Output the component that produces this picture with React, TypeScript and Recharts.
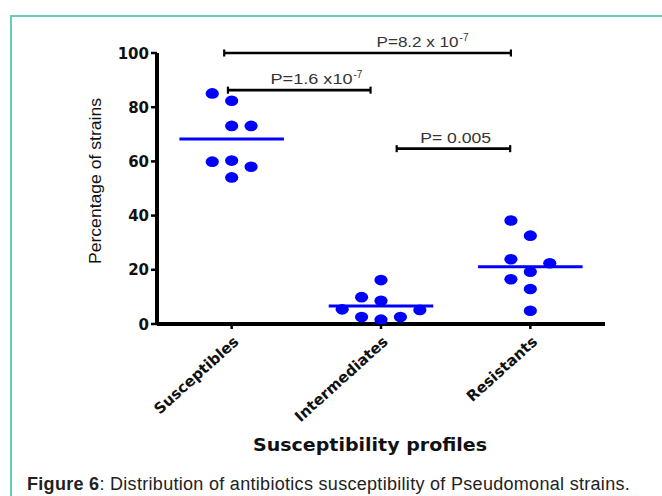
import React from 'react';
import { ScatterChart, Scatter, XAxis, YAxis, ReferenceLine, ReferenceDot } from 'recharts';

// ---- data ----
const categories = ['Susceptibles', 'Intermediates', 'Resistants'];
const susceptibleValues = [85.1, 82.4, 73.1, 73.1, 59.9, 60.3, 58.0, 54.1];
const susceptibleSlots = [-1, 0, 0, 1, -1, 0, 1, 0];
const intermediateValues = [5.4, 9.9, 16.2, 8.6, 2.6, 1.6, 2.6, 5.2];
const intermediateSlots = [-2, -1, 0, 0, -1, 0, 1, 2];
const resistantValues = [38.2, 32.6, 23.9, 22.4, 19.3, 16.5, 12.9, 4.9];
const resistantSlots = [-1, 0, -1, 1, 0, -1, 0, 0];
const medians = [68.3, 6.6, 21.1];
const yTicks = [0, 20, 40, 60, 80, 100];

// significance brackets
const pText = ['P=8.2 x 10', 'P=1.6 x10', 'P= 0.005'];
const pExponent = ['-7', '-7', ''];
const bracketStart = [0.95, 0.975, 2.105];
const bracketEnd = [2.87, 1.93, 2.865];
const bracketLevel = [100, 86.3, 64.7];
const pLabelX = [2.275, 1.565, 2.5];

const SLOT = 0.13;
const MEDIAN_HALF = 0.35;
const CAP = 1.3;

const toPoints = (values: number[], slots: number[], cat: number) =>
  values.map((v, i) => ({ x: cat + 1 + slots[i] * SLOT, y: v }));

const seriesData = [
  toPoints(susceptibleValues, susceptibleSlots, 0),
  toPoints(intermediateValues, intermediateSlots, 1),
  toPoints(resistantValues, resistantSlots, 2),
];

const Dot = (props: any) => (
  <ellipse cx={props.cx} cy={props.cy} rx={6.6} ry={5.3} fill="#0000ff" />
);

const XTick = (props: any) => {
  const { x, y, payload } = props;
  const ax = x + 8;
  const ay = y + 12;
  return (
    <text
      x={ax}
      y={ay}
      transform={`rotate(-42, ${ax}, ${ay})`}
      textAnchor="end"
      fontFamily="'DejaVu Sans', sans-serif"
      fontWeight="bold"
      fontSize={15}
      fill="#111"
    >
      {categories[payload.value - 1]}
    </text>
  );
};

const YTick = (props: any) => {
  const { x, y, payload } = props;
  return (
    <text
      x={x}
      y={y}
      dy={5.5}
      textAnchor="end"
      fontFamily="'DejaVu Sans', sans-serif"
      fontWeight="bold"
      fontSize={15}
      fill="#111"
    >
      {payload.value}
    </text>
  );
};

const PLabel = (i: number) => (props: any) => {
  const { cx, cy } = props;
  const mainLen = [82, 82, 71][i];
  const left = cx - (mainLen + (pExponent[i] ? 9 : 0)) / 2;
  return (
    <g>
      <text
        x={left}
        y={cy - 6}
        fontFamily="'Liberation Sans', Arial, sans-serif"
        fontSize={15}
        fill="#333"
        textLength={mainLen}
        lengthAdjust="spacingAndGlyphs"
      >
        {pText[i]}
      </text>
      {pExponent[i] ? (
        <text
          x={left + mainLen + 1}
          y={cy - 12}
          fontFamily="'Liberation Sans', Arial, sans-serif"
          fontSize={10}
          fill="#333"
        >
          {pExponent[i]}
        </text>
      ) : null}
    </g>
  );
};

const YTitle = () => (
  <text
    x={95}
    y={181}
    transform="rotate(-90, 95, 181)"
    textAnchor="middle"
    dominantBaseline="central"
    fontFamily="'Liberation Sans', Arial, sans-serif"
    fontSize={17}
    fill="#111"
    textLength={166}
    lengthAdjust="spacingAndGlyphs"
  >
    Percentage of strains
  </text>
);

const XTitle = () => (
  <text
    x={370}
    y={451}
    textAnchor="middle"
    fontFamily="'DejaVu Sans', sans-serif"
    fontWeight="bold"
    fontSize={17}
    fill="#111"
    textLength={234}
    lengthAdjust="spacingAndGlyphs"
  >
    Susceptibility profiles
  </text>
);

export default function App() {
  return (
    <div style={{ position: 'absolute', left: 0, top: 0, width: 662, height: 496, background: '#fff', overflow: 'hidden' }}>
      <div
        style={{
          position: 'absolute',
          left: 10,
          top: 15,
          width: 700,
          height: 520,
          borderLeft: '2px solid #62cfb9',
          borderTop: '2px solid #62cfb9',
        }}
      />
      <div style={{ position: 'absolute', left: 0, top: 0 }}>
        <ScatterChart width={662} height={496} margin={{ top: 53, right: 57, bottom: 142, left: 0 }}>
          <XAxis
            type="number"
            dataKey="x"
            domain={[0.5, 3.5]}
            ticks={[1, 2, 3]}
            allowDataOverflow
            height={30}
            axisLine={{ stroke: '#000', strokeWidth: 4 }}
            tickLine={{ stroke: '#000', strokeWidth: 2.5 }}
            tickSize={5}
            tick={<XTick />}
            label={<XTitle />}
          />
          <YAxis
            type="number"
            dataKey="y"
            domain={[0, 100]}
            ticks={yTicks}
            allowDataOverflow
            width={157}
            axisLine={{ stroke: '#000', strokeWidth: 4 }}
            tickLine={{ stroke: '#000', strokeWidth: 2.5 }}
            tickSize={6}
            tickMargin={2}
            tick={<YTick />}
            label={<YTitle />}
          />
          {medians.map((m, i) => (
            <ReferenceLine
              key={`med${i}`}
              segment={[
                { x: i + 1 - MEDIAN_HALF, y: m },
                { x: i + 1 + MEDIAN_HALF, y: m },
              ]}
              stroke="#0000ff"
              strokeWidth={3}
              ifOverflow="visible"
            />
          ))}
          {seriesData.map((d, i) => (
            <Scatter key={`s${i}`} data={d} shape={<Dot />} isAnimationActive={false} />
          ))}
          {bracketLevel.map((lv, i) => (
            <ReferenceLine
              key={`br${i}`}
              segment={[
                { x: bracketStart[i], y: lv },
                { x: bracketEnd[i], y: lv },
              ]}
              stroke="#000"
              strokeWidth={2.6}
              ifOverflow="visible"
            />
          ))}
          {bracketLevel.map((lv, i) => (
            <ReferenceLine
              key={`cl${i}`}
              segment={[
                { x: bracketStart[i], y: lv - CAP },
                { x: bracketStart[i], y: lv + CAP },
              ]}
              stroke="#000"
              strokeWidth={2.2}
              ifOverflow="visible"
            />
          ))}
          {bracketLevel.map((lv, i) => (
            <ReferenceLine
              key={`cr${i}`}
              segment={[
                { x: bracketEnd[i], y: lv - CAP },
                { x: bracketEnd[i], y: lv + CAP },
              ]}
              stroke="#000"
              strokeWidth={2.2}
              ifOverflow="visible"
            />
          ))}
          {bracketLevel.map((lv, i) => (
            <ReferenceDot
              key={`pl${i}`}
              x={pLabelX[i]}
              y={lv}
              r={0}
              ifOverflow="visible"
              shape={PLabel(i)}
            />
          ))}
        </ScatterChart>
      </div>
      <div
        style={{
          position: 'absolute',
          left: 27,
          top: 475,
          fontFamily: "'Liberation Sans', Arial, sans-serif",
          fontSize: 18,
          lineHeight: '18px',
          letterSpacing: '0.3px',
          color: '#222',
          whiteSpace: 'nowrap',
        }}
      >
        <b>Figure 6</b>: Distribution of antibiotics susceptibility of Pseudomonal strains.
      </div>
    </div>
  );
}
